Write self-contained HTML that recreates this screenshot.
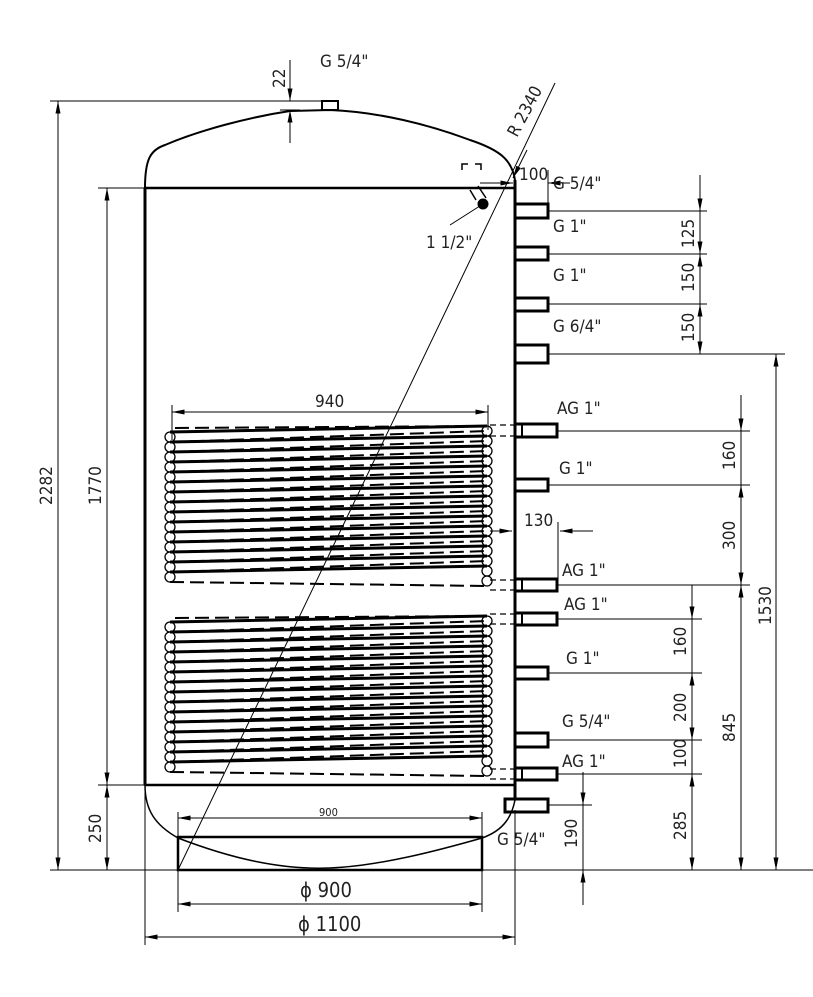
<!DOCTYPE html>
<html><head><meta charset="utf-8"><style>
html,body{margin:0;padding:0;background:#fff}
svg{display:block}
text{font-family:"DejaVu Sans Condensed","Liberation Sans Narrow","Liberation Sans",sans-serif;fill:#222;font-size:17px}
</style></head><body>
<svg width="813" height="997" viewBox="0 0 813 997" xmlns="http://www.w3.org/2000/svg">
<defs>
<marker id="a" viewBox="0 0 10 4" refX="10" refY="2" markerWidth="14" markerHeight="5" markerUnits="userSpaceOnUse" orient="auto-start-reverse"><path d="M0,0L10,2L0,4z" fill="#000"/></marker>
</defs>
<g stroke="#000" fill="none">
<path d="M145,188 V785" stroke-width="3"/>
<path d="M515,180 V800" stroke-width="3"/>
<line x1="145" y1="188" x2="515" y2="188" stroke-width="2.5"/>
<line x1="145" y1="785" x2="515" y2="785" stroke-width="2.5"/>
<path d="M145,188 C145,160 150,150 165,145 C200,130 250,117 290,111 L330,110 C380,112 430,125 470,140 C500,150 512,160 515,180" stroke-width="2"/>
<rect x="322" y="101" width="16" height="9" stroke-width="2"/>
<path d="M145,785 C145,810 155,825 178,838 C230,858 280,870 330,868 C380,866 440,850 482,838 C505,830 512,815 515,800" stroke-width="1.5"/>
<rect x="178" y="837" width="304" height="33" stroke-width="2.5"/>
<line x1="50" y1="870" x2="813" y2="870" stroke-width="1"/>
<line x1="178" y1="870" x2="555" y2="83" stroke-width="1"/>
<line x1="527" y1="150" x2="513" y2="178" stroke-width="1" marker-end="url(#a)"/>
<g stroke-width="3">
<rect x="515" y="204" width="33" height="14"/>
<rect x="515" y="247" width="33" height="13"/>
<rect x="515" y="298" width="33" height="13"/>
<rect x="515" y="345" width="33" height="18"/>
<rect x="515" y="424" width="42" height="13"/><line x1="522" y1="424" x2="522" y2="437" stroke-width="2"/>
<rect x="515" y="479" width="33" height="12"/>
<rect x="515" y="579" width="42" height="12"/><line x1="522" y1="579" x2="522" y2="591" stroke-width="2"/>
<rect x="515" y="613" width="42" height="12"/><line x1="522" y1="613" x2="522" y2="625" stroke-width="2"/>
<rect x="515" y="667" width="33" height="12"/>
<rect x="515" y="733" width="33" height="14"/>
<rect x="515" y="768" width="42" height="12"/><line x1="522" y1="768" x2="522" y2="780" stroke-width="2"/>
<rect x="505" y="799" width="43" height="13"/>
</g>
<circle cx="483" cy="204" r="5" fill="#000"/>
<line x1="483" y1="204" x2="450" y2="225" stroke-width="1"/>
<path d="M462,170 v-6 h6 M475,164 h6 v6" stroke-width="1.5"/>
<path d="M470,190 l6,10 M478,186 l8,12" stroke-width="1.5"/>
<g stroke-dasharray="6,4" stroke-width="1.2">
<line x1="490" y1="425" x2="515" y2="425"/><line x1="490" y1="436" x2="515" y2="436"/>
<line x1="490" y1="580" x2="515" y2="580"/><line x1="490" y1="590" x2="515" y2="590"/>
<line x1="490" y1="614" x2="515" y2="614"/><line x1="490" y1="624" x2="515" y2="624"/>
<line x1="490" y1="769" x2="515" y2="769"/><line x1="490" y1="779" x2="515" y2="779"/>
</g>
<g stroke-width="1.3">
<g id="coil">
<circle cx="170" cy="437" r="5"/><circle cx="487" cy="431" r="5"/>
<circle cx="170" cy="447" r="5"/><circle cx="487" cy="441" r="5"/>
<circle cx="170" cy="457" r="5"/><circle cx="487" cy="451" r="5"/>
<circle cx="170" cy="467" r="5"/><circle cx="487" cy="461" r="5"/>
<circle cx="170" cy="477" r="5"/><circle cx="487" cy="471" r="5"/>
<circle cx="170" cy="487" r="5"/><circle cx="487" cy="481" r="5"/>
<circle cx="170" cy="497" r="5"/><circle cx="487" cy="491" r="5"/>
<circle cx="170" cy="507" r="5"/><circle cx="487" cy="501" r="5"/>
<circle cx="170" cy="517" r="5"/><circle cx="487" cy="511" r="5"/>
<circle cx="170" cy="527" r="5"/><circle cx="487" cy="521" r="5"/>
<circle cx="170" cy="537" r="5"/><circle cx="487" cy="531" r="5"/>
<circle cx="170" cy="547" r="5"/><circle cx="487" cy="541" r="5"/>
<circle cx="170" cy="557" r="5"/><circle cx="487" cy="551" r="5"/>
<circle cx="170" cy="567" r="5"/><circle cx="487" cy="561" r="5"/>
<circle cx="170" cy="577" r="5"/><circle cx="487" cy="571" r="5"/>
<circle cx="487" cy="581" r="5"/>
<path stroke-width="3" d="M170,432 L487,426 M170,442 L487,436 M170,452 L487,446 M170,462 L487,456 M170,472 L487,466 M170,482 L487,476 M170,492 L487,486 M170,502 L487,496 M170,512 L487,506 M170,522 L487,516 M170,532 L487,526 M170,542 L487,536 M170,552 L487,546 M170,562 L487,556 M170,572 L487,566"/>
<path stroke-width="2" stroke-dasharray="14,6" d="M170,442 L487,431 M170,452 L487,441 M170,462 L487,451 M170,472 L487,461 M170,482 L487,471 M170,492 L487,481 M170,502 L487,491 M170,512 L487,501 M170,522 L487,511 M170,532 L487,521 M170,542 L487,531 M170,552 L487,541 M170,562 L487,551 M170,572 L487,561 M170,582 L487,586 M175,428 L487,426"/>
</g>
<use href="#coil" transform="translate(0,190)"/>
</g>
<line x1="172" y1="412" x2="488" y2="412" stroke-width="1" marker-start="url(#a)" marker-end="url(#a)"/>
<line x1="172" y1="405" x2="172" y2="440" stroke-width="1"/><line x1="488" y1="405" x2="488" y2="430" stroke-width="1"/>
<line x1="490" y1="531" x2="512" y2="531" stroke-width="1" marker-end="url(#a)"/>
<line x1="593" y1="531" x2="560" y2="531" stroke-width="1" marker-end="url(#a)"/>
<line x1="558" y1="522" x2="558" y2="580" stroke-width="1"/>
<line x1="480" y1="183" x2="513" y2="183" stroke-width="1" marker-end="url(#a)"/>
<line x1="570" y1="183" x2="548" y2="183" stroke-width="1" marker-end="url(#a)"/>
<line x1="548" y1="170" x2="548" y2="205" stroke-width="1"/>
<line x1="50" y1="101" x2="338" y2="101" stroke-width="1"/>
<line x1="58" y1="101" x2="58" y2="870" stroke-width="1" marker-start="url(#a)" marker-end="url(#a)"/>
<line x1="98" y1="188" x2="145" y2="188" stroke-width="1"/>
<line x1="98" y1="785" x2="145" y2="785" stroke-width="1"/>
<line x1="107" y1="188" x2="107" y2="785" stroke-width="1" marker-start="url(#a)" marker-end="url(#a)"/>
<line x1="107" y1="785" x2="107" y2="870" stroke-width="1" marker-start="url(#a)" marker-end="url(#a)"/>
<line x1="290" y1="60" x2="290" y2="101" stroke-width="1" marker-end="url(#a)"/>
<line x1="290" y1="143" x2="290" y2="110" stroke-width="1" marker-end="url(#a)"/>
<line x1="280" y1="110" x2="300" y2="110" stroke-width="1"/>
<line x1="178" y1="818" x2="482" y2="818" stroke-width="1" marker-start="url(#a)" marker-end="url(#a)"/>
<line x1="178" y1="812" x2="178" y2="912" stroke-width="1"/><line x1="482" y1="812" x2="482" y2="912" stroke-width="1"/>
<line x1="178" y1="904" x2="482" y2="904" stroke-width="1" marker-start="url(#a)" marker-end="url(#a)"/>
<line x1="145" y1="790" x2="145" y2="945" stroke-width="1"/><line x1="515" y1="810" x2="515" y2="945" stroke-width="1"/>
<line x1="145" y1="937" x2="515" y2="937" stroke-width="1" marker-start="url(#a)" marker-end="url(#a)"/>
<g stroke-width="1">
<line x1="548" y1="211" x2="707" y2="211"/>
<line x1="548" y1="254" x2="707" y2="254"/>
<line x1="548" y1="304" x2="707" y2="304"/>
<line x1="548" y1="354" x2="785" y2="354"/>
<line x1="557" y1="431" x2="750" y2="431"/>
<line x1="548" y1="485" x2="750" y2="485"/>
<line x1="557" y1="585" x2="750" y2="585"/>
<line x1="557" y1="619" x2="702" y2="619"/>
<line x1="548" y1="673" x2="702" y2="673"/>
<line x1="548" y1="740" x2="702" y2="740"/>
<line x1="557" y1="774" x2="702" y2="774"/>
<line x1="548" y1="805" x2="592" y2="805"/>
<line x1="700" y1="175" x2="700" y2="211" marker-end="url(#a)"/>
<line x1="700" y1="211" x2="700" y2="254" marker-end="url(#a)"/>
<line x1="700" y1="254" x2="700" y2="304" marker-start="url(#a)"/>
<line x1="700" y1="304" x2="700" y2="354" marker-start="url(#a)" marker-end="url(#a)"/>
<line x1="741" y1="395" x2="741" y2="431" marker-end="url(#a)"/>
<line x1="741" y1="431" x2="741" y2="485"/>
<line x1="741" y1="485" x2="741" y2="585" marker-start="url(#a)" marker-end="url(#a)"/>
<line x1="741" y1="585" x2="741" y2="870" marker-start="url(#a)" marker-end="url(#a)"/>
<line x1="776" y1="354" x2="776" y2="870" marker-start="url(#a)" marker-end="url(#a)"/>
<line x1="692" y1="585" x2="692" y2="619" marker-end="url(#a)"/>
<line x1="692" y1="619" x2="692" y2="673"/>
<line x1="692" y1="673" x2="692" y2="740" marker-start="url(#a)" marker-end="url(#a)"/>
<line x1="692" y1="740" x2="692" y2="774"/>
<line x1="692" y1="774" x2="692" y2="870" marker-start="url(#a)" marker-end="url(#a)"/>
<line x1="583" y1="772" x2="583" y2="805" marker-end="url(#a)"/>
<line x1="583" y1="805" x2="583" y2="870"/>
<line x1="583" y1="905" x2="583" y2="870" marker-end="url(#a)"/>
</g>
</g>
<text x="320" y="67">G 5/4"</text>
<text x="553" y="189">G 5/4"</text>
<text x="553" y="232">G 1"</text>
<text x="553" y="281">G 1"</text>
<text x="553" y="332">G 6/4"</text>
<text x="557" y="414">AG 1"</text>
<text x="559" y="474">G 1"</text>
<text x="562" y="576">AG 1"</text>
<text x="564" y="610">AG 1"</text>
<text x="566" y="664">G 1"</text>
<text x="562" y="727">G 5/4"</text>
<text x="562" y="767">AG 1"</text>
<text x="497" y="845">G 5/4"</text>
<text x="519" y="180">100</text>
<text x="524" y="526">130</text>
<text x="426" y="248">1 1/2"</text>
<text x="315" y="407">940</text>
<text x="319" y="816" style="font-size:11px">900</text>
<text x="300" y="897" style="font-size:20px">ϕ  900</text>
<text x="298" y="931" style="font-size:20px">ϕ  1100</text>
<text transform="translate(517,138) rotate(-62)">R 2340</text>
<g style="font-size:17px">
<text transform="translate(285,88) rotate(-90)">22</text>
<text transform="translate(52,505) rotate(-90)">2282</text>
<text transform="translate(101,505) rotate(-90)">1770</text>
<text transform="translate(101,843) rotate(-90)">250</text>
<text transform="translate(694,248) rotate(-90)">125</text>
<text transform="translate(694,292) rotate(-90)">150</text>
<text transform="translate(694,342) rotate(-90)">150</text>
<text transform="translate(735,470) rotate(-90)">160</text>
<text transform="translate(735,550) rotate(-90)">300</text>
<text transform="translate(771,625) rotate(-90)">1530</text>
<text transform="translate(735,742) rotate(-90)">845</text>
<text transform="translate(686,656) rotate(-90)">160</text>
<text transform="translate(686,722) rotate(-90)">200</text>
<text transform="translate(686,768) rotate(-90)">100</text>
<text transform="translate(686,840) rotate(-90)">285</text>
<text transform="translate(577,848) rotate(-90)">190</text>
</g>
</svg>
</body></html>
